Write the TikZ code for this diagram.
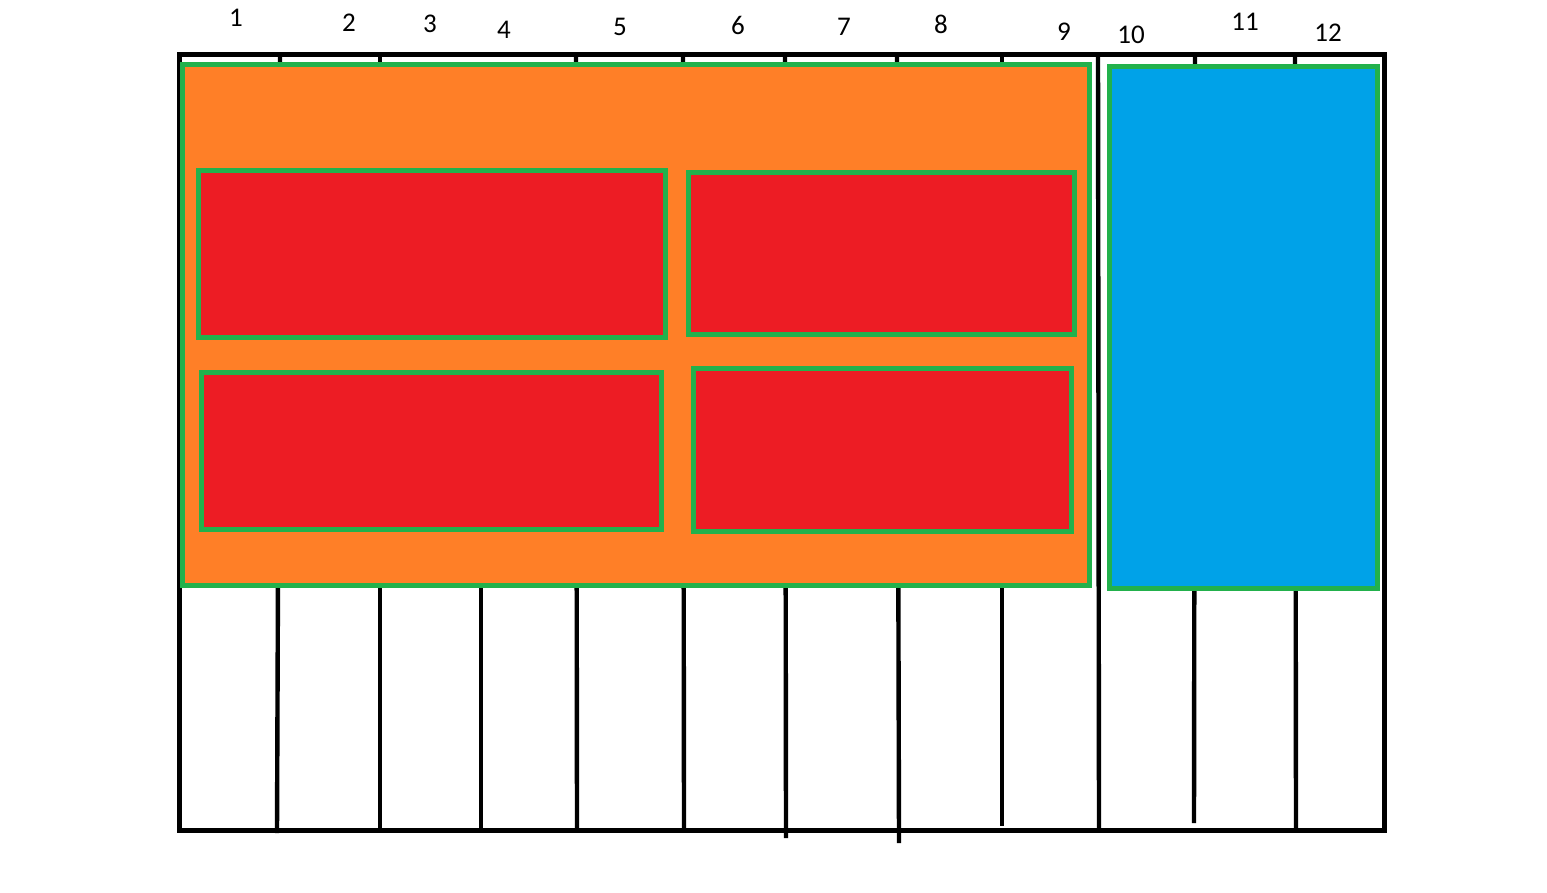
\documentclass[tikz,border=0pt]{standalone}
\usepackage{fontspec}
\setmainfont{Carlito}
\usepackage{tikz}
\definecolor{paintorange}{HTML}{FF7F27}
\definecolor{paintred}{HTML}{ED1C24}
\definecolor{paintblue}{HTML}{00A2E8}
\definecolor{paintgreen}{HTML}{22B14C}

\begin{document}
\begin{tikzpicture}[x=0.5pt, y=-0.5pt, font=\fontsize{13.5}{16}\selectfont,
  frame/.style={draw=black, line width=2.5pt},
  rule/.style={draw=black, line width=2.2pt},
  area/.style={draw=paintgreen, line width=2.5pt},
  num/.style={inner sep=0pt}]
\useasboundingbox (0,0) rectangle (1547,893);
% column rules, drawn first so the areas hide them
\draw[rule] (280,55) -- (277,833);
\draw[rule] (380,55) -- (380,832);
\draw[rule] (481,585) -- (481,828);
\draw[rule] (576,55) -- (577,828);
\draw[rule] (683,55) -- (684,828);
\draw[rule] (785,55) -- (786,838);
\draw[rule] (897,55) -- (899,843);
\draw[rule] (1002,55) -- (1002,826);
\draw[rule] (1098,55) -- (1099,830);
\draw[rule] (1195,55) -- (1194,823);
\draw[rule] (1295,55) -- (1296,830);
\draw[frame] (179,55) rectangle (1384,830);
% areas
\draw[area, fill=paintorange] (182,65) rectangle (1089,585);
\draw[area, fill=paintblue] (1109,67) rectangle (1377,588);
\draw[area, fill=paintred] (198,171) rectangle (665,337);
\draw[area, fill=paintred] (688,173) rectangle (1074,334);
\draw[area, fill=paintred] (201,372) rectangle (661,529);
\draw[area, fill=paintred] (693,368) rectangle (1071,531);
% column numbers
\node[num] (c1) at (236,18) {1};
\node[num] (c2) at (349,23) {2};
\node[num] (c3) at (430,24) {3};
\node[num] (c4) at (504,30) {4};
\node[num] (c5) at (620,27) {5};
\node[num] (c6) at (738,25) {6};
\node[num] (c7) at (844,27) {7};
\node[num] (c8) at (941,24) {8};
\node[num] (c9) at (1064,32) {9};
\node[num] (c10) at (1131,35) {10};
\node[num] (c11) at (1245,22) {11};
\node[num] (c12) at (1328,33) {12};
\end{tikzpicture}
\end{document}
